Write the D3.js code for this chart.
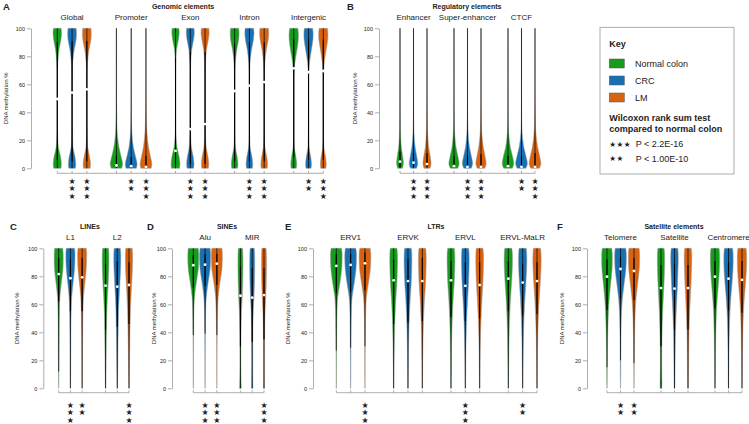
<!DOCTYPE html>
<html>
<head>
<meta charset="utf-8">
<script src="https://cdn.jsdelivr.net/npm/d3@7"></script>
<style>
  body { margin: 0; background: #fff; }
  text { font-family: "Liberation Sans", Arial, sans-serif; fill: #222; }
</style>
</head>
<body>
<svg id="chart" width="749" height="424"></svg>
<script>

/* SHARED */

var sampleNames = ["Normal colon", "CRC", "LM"];
var sampleColors = ["#169c1c", "#1870b4", "#d9620f"];
var gridLevels = [0, 3, 8, 15, 25, 40, 55, 65, 75, 85, 92, 97, 100];
var yTicks = [0, 20, 40, 60, 80, 100];

/* A: GENOMIC ELEMENTS */

var genomicGroups = ["Global", "Promoter", "Exon", "Intron", "Intergenic"];
var genomicMedians = [[49.5, 54, 56.4], [2, 1.5, 1], [12.4, 28, 31.6], [55.2, 59, 61.6], [71.4, 68.6, 69.5]];
var genomicBoxes = [
  [[6, 90, 0, 100], [5, 91, 0, 100], [5, 91, 0, 100]],
  [[0.5, 9, 0, 100], [0.3, 8, 0, 100], [0.3, 9, 0, 100]],
  [[3, 79, 0, 100], [3, 83, 0, 100], [3, 83, 0, 100]],
  [[5, 89, 0, 100], [5, 90, 0, 100], [5, 90, 0, 100]],
  [[8, 92, 0, 100], [6, 92, 0, 100], [6, 92, 0, 100]]
];
var genomicWidths = [
  [[0.5, 0.55, 0.45, 0.15, 0.04, 0.02, 0.02, 0.03, 0.07, 0.25, 0.5, 0.58, 0.52],
   [0.45, 0.5, 0.4, 0.12, 0.04, 0.02, 0.02, 0.03, 0.08, 0.3, 0.55, 0.6, 0.55],
   [0.45, 0.5, 0.38, 0.12, 0.04, 0.02, 0.02, 0.03, 0.08, 0.3, 0.55, 0.6, 0.55]],
  [[0.7, 0.84, 0.65, 0.35, 0.12, 0.04, 0.02, 0.02, 0.02, 0.02, 0.02, 0.02, 0.02],
   [0.7, 0.8, 0.6, 0.3, 0.1, 0.03, 0.02, 0.02, 0.02, 0.02, 0.02, 0.02, 0.02],
   [0.7, 0.8, 0.62, 0.35, 0.14, 0.05, 0.03, 0.02, 0.02, 0.02, 0.02, 0.02, 0.02]],
  [[0.55, 0.6, 0.5, 0.2, 0.05, 0.02, 0.02, 0.02, 0.04, 0.15, 0.4, 0.5, 0.45],
   [0.45, 0.5, 0.4, 0.15, 0.04, 0.02, 0.02, 0.02, 0.05, 0.2, 0.45, 0.55, 0.5],
   [0.45, 0.5, 0.4, 0.15, 0.04, 0.02, 0.02, 0.02, 0.05, 0.2, 0.45, 0.55, 0.5]],
  [[0.4, 0.45, 0.35, 0.1, 0.03, 0.02, 0.02, 0.03, 0.08, 0.3, 0.55, 0.6, 0.55],
   [0.4, 0.45, 0.35, 0.1, 0.03, 0.02, 0.02, 0.03, 0.08, 0.3, 0.55, 0.62, 0.57],
   [0.4, 0.45, 0.35, 0.1, 0.03, 0.02, 0.02, 0.03, 0.08, 0.3, 0.55, 0.62, 0.57]],
  [[0.35, 0.4, 0.3, 0.08, 0.03, 0.02, 0.02, 0.03, 0.15, 0.45, 0.62, 0.62, 0.55],
   [0.35, 0.4, 0.3, 0.08, 0.03, 0.02, 0.02, 0.03, 0.12, 0.4, 0.6, 0.62, 0.55],
   [0.35, 0.4, 0.3, 0.08, 0.03, 0.02, 0.02, 0.03, 0.12, 0.4, 0.6, 0.62, 0.55]]
];
var genomicStars = [[0, 3, 3], [0, 2, 3], [0, 3, 3], [0, 3, 3], [0, 2, 3]];

/* B: REGULATORY ELEMENTS */

var regulatoryGroups = ["Enhancer", "Super-enhancer", "CTCF"];
var regulatoryMedians = [[4.7, 4, 3], [1.5, 1, 1], [1.5, 1, 1]];
var regulatoryBoxes = [
  [[1, 12, 0, 100], [1, 11, 0, 100], [1, 11, 0, 100]],
  [[0.5, 9, 0, 100], [0.3, 9, 0, 100], [0.3, 10, 0, 100]],
  [[0.5, 9, 0, 100], [0.3, 9, 0, 100], [0.3, 11, 0, 100]]
];
var regulatoryWidths = [
  [[0.35, 0.5, 0.42, 0.2, 0.07, 0.03, 0.02, 0.02, 0.02, 0.02, 0.02, 0.02, 0.02],
   [0.45, 0.62, 0.5, 0.25, 0.08, 0.03, 0.02, 0.02, 0.02, 0.02, 0.02, 0.02, 0.02],
   [0.45, 0.6, 0.5, 0.25, 0.1, 0.04, 0.02, 0.02, 0.02, 0.02, 0.02, 0.02, 0.02]],
  [[0.55, 0.76, 0.6, 0.3, 0.1, 0.03, 0.02, 0.02, 0.02, 0.02, 0.02, 0.02, 0.02],
   [0.55, 0.76, 0.6, 0.3, 0.1, 0.03, 0.02, 0.02, 0.02, 0.02, 0.02, 0.02, 0.02],
   [0.55, 0.76, 0.62, 0.35, 0.12, 0.04, 0.02, 0.02, 0.02, 0.02, 0.02, 0.02, 0.02]],
  [[0.65, 0.85, 0.7, 0.35, 0.1, 0.03, 0.02, 0.02, 0.02, 0.02, 0.02, 0.02, 0.02],
   [0.65, 0.87, 0.7, 0.35, 0.1, 0.03, 0.02, 0.02, 0.02, 0.02, 0.02, 0.02, 0.02],
   [0.65, 0.87, 0.72, 0.4, 0.14, 0.05, 0.02, 0.02, 0.02, 0.02, 0.02, 0.02, 0.02]]
];
var regulatoryStars = [[0, 3, 3], [0, 3, 3], [0, 2, 3]];

/* C: LINEs */

var lineGroups = ["L1", "L2"];
var lineMedians = [[81.6, 78.6, 79.3], [73.3, 72.6, 73.8]];
var lineBoxes = [
  [[62, 93, 12, 100], [55, 92, 0, 100], [55, 93, 0, 100]],
  [[42, 89, 0, 100], [44, 91, 0, 100], [46, 90, 0, 100]]
];
var lineWidths = [
  [[0.02, 0.03, 0.04, 0.05, 0.06, 0.08, 0.12, 0.2, 0.45, 0.72, 0.77, 0.75, 0.68],
   [0.02, 0.03, 0.04, 0.05, 0.06, 0.08, 0.13, 0.22, 0.45, 0.7, 0.77, 0.77, 0.7],
   [0.02, 0.03, 0.04, 0.05, 0.06, 0.09, 0.14, 0.23, 0.46, 0.7, 0.76, 0.77, 0.7]],
  [[0.04, 0.05, 0.06, 0.08, 0.1, 0.15, 0.22, 0.32, 0.45, 0.55, 0.57, 0.55, 0.5],
   [0.04, 0.05, 0.06, 0.08, 0.1, 0.15, 0.22, 0.32, 0.45, 0.56, 0.6, 0.58, 0.52],
   [0.04, 0.05, 0.06, 0.08, 0.11, 0.16, 0.24, 0.34, 0.47, 0.58, 0.62, 0.6, 0.54]]
];
var lineStars = [[0, 3, 2], [0, 0, 3]];

/* D: SINEs */

var sineGroups = ["Alu", "MIR"];
var sineMedians = [[87.9, 88.3, 89], [66.1, 64.7, 66.6]];
var sineBoxes = [
  [[72, 95, 38, 100], [73, 96, 39, 100], [74, 96, 38, 100]],
  [[30, 87, 0, 100], [33, 86, 0, 100], [35, 86, 0, 100]]
];
var sineWidths = [
  [[0.02, 0.02, 0.03, 0.03, 0.04, 0.06, 0.1, 0.2, 0.5, 0.85, 0.93, 0.92, 0.85],
   [0.02, 0.02, 0.03, 0.03, 0.04, 0.06, 0.1, 0.2, 0.5, 0.85, 0.93, 0.92, 0.85],
   [0.02, 0.02, 0.03, 0.03, 0.04, 0.07, 0.12, 0.22, 0.5, 0.85, 0.93, 0.92, 0.85]],
  [[0.15, 0.12, 0.1, 0.08, 0.08, 0.1, 0.18, 0.3, 0.38, 0.42, 0.42, 0.4, 0.35],
   [0.12, 0.1, 0.09, 0.08, 0.08, 0.1, 0.18, 0.3, 0.38, 0.42, 0.42, 0.4, 0.35],
   [0.1, 0.09, 0.08, 0.08, 0.08, 0.1, 0.18, 0.3, 0.38, 0.42, 0.42, 0.4, 0.35]]
];
var sineStars = [[0, 3, 3], [0, 0, 3]];

/* E: LTRs */

var ltrGroups = ["ERV1", "ERVK", "ERVL", "ERVL-MaLR"];
var ltrMedians = [[87.4, 88.1, 89.3], [77.1, 76.6, 76.6], [77.1, 73.2, 73.8], [78.3, 75.5, 76.6]];
var ltrBoxes = [
  [[68, 96, 27, 100], [69, 96, 29, 100], [70, 97, 30, 100]],
  [[46, 92, 0, 100], [47, 92, 0, 100], [48, 93, 0, 100]],
  [[51, 91, 0, 100], [48, 90, 0, 100], [50, 90, 0, 100]],
  [[55, 91, 0, 100], [52, 89, 0, 100], [53, 90, 0, 100]]
];
var ltrWidths = [
  [[0.02, 0.02, 0.03, 0.03, 0.04, 0.06, 0.1, 0.2, 0.5, 0.75, 0.81, 0.8, 0.72],
   [0.02, 0.02, 0.03, 0.03, 0.04, 0.06, 0.1, 0.2, 0.5, 0.75, 0.81, 0.8, 0.72],
   [0.02, 0.02, 0.03, 0.03, 0.04, 0.06, 0.1, 0.2, 0.48, 0.75, 0.81, 0.8, 0.72]],
  [[0.03, 0.03, 0.04, 0.05, 0.07, 0.12, 0.22, 0.32, 0.45, 0.52, 0.54, 0.52, 0.46],
   [0.03, 0.03, 0.04, 0.05, 0.07, 0.12, 0.22, 0.32, 0.45, 0.52, 0.54, 0.52, 0.46],
   [0.03, 0.03, 0.04, 0.05, 0.07, 0.12, 0.22, 0.32, 0.45, 0.52, 0.54, 0.52, 0.46]],
  [[0.03, 0.03, 0.04, 0.05, 0.07, 0.12, 0.22, 0.32, 0.45, 0.52, 0.54, 0.52, 0.46],
   [0.03, 0.03, 0.04, 0.05, 0.07, 0.13, 0.24, 0.34, 0.45, 0.52, 0.54, 0.52, 0.46],
   [0.03, 0.03, 0.04, 0.05, 0.07, 0.13, 0.24, 0.34, 0.45, 0.52, 0.54, 0.52, 0.46]],
  [[0.02, 0.03, 0.04, 0.05, 0.07, 0.12, 0.22, 0.32, 0.45, 0.55, 0.58, 0.55, 0.5],
   [0.02, 0.03, 0.04, 0.05, 0.07, 0.12, 0.22, 0.32, 0.45, 0.55, 0.58, 0.55, 0.5],
   [0.02, 0.03, 0.04, 0.05, 0.07, 0.12, 0.22, 0.32, 0.45, 0.55, 0.58, 0.55, 0.5]]
];
var ltrStars = [[0, 0, 3], [0, 0, 0], [0, 3, 0], [0, 2, 0]];

/* F: SATELLITE ELEMENTS */

var satelliteGroups = ["Telomere", "Satellite", "Centromere"];
var satelliteMedians = [[79.7, 85.2, 83.8], [71.6, 71.2, 71.6], [79.7, 78.3, 77.4]];
var satelliteBoxes = [
  [[56, 92, 15, 100], [64, 94, 20, 100], [63, 93, 18, 100]],
  [[30, 88, 0, 100], [42, 89, 0, 100], [42, 88, 0, 100]],
  [[57, 91, 0, 100], [56, 90, 0, 100], [54, 91, 0, 100]]
];
var satelliteWidths = [
  [[0.02, 0.03, 0.04, 0.05, 0.07, 0.12, 0.22, 0.35, 0.55, 0.75, 0.79, 0.77, 0.7],
   [0.02, 0.02, 0.03, 0.04, 0.05, 0.08, 0.16, 0.3, 0.55, 0.8, 0.86, 0.85, 0.78],
   [0.02, 0.02, 0.03, 0.04, 0.05, 0.09, 0.18, 0.32, 0.55, 0.78, 0.83, 0.82, 0.75]],
  [[0.12, 0.14, 0.12, 0.1, 0.1, 0.15, 0.25, 0.35, 0.45, 0.52, 0.54, 0.52, 0.46],
   [0.05, 0.06, 0.07, 0.08, 0.1, 0.15, 0.25, 0.35, 0.45, 0.52, 0.56, 0.54, 0.48],
   [0.05, 0.06, 0.07, 0.08, 0.1, 0.15, 0.25, 0.35, 0.45, 0.52, 0.56, 0.54, 0.48]],
  [[0.02, 0.03, 0.04, 0.05, 0.07, 0.12, 0.22, 0.35, 0.52, 0.66, 0.69, 0.67, 0.6],
   [0.02, 0.03, 0.04, 0.05, 0.07, 0.12, 0.22, 0.35, 0.52, 0.66, 0.69, 0.67, 0.6],
   [0.02, 0.03, 0.04, 0.05, 0.07, 0.12, 0.22, 0.35, 0.52, 0.66, 0.69, 0.67, 0.6]]
];
var satelliteStars = [[0, 2, 2], [0, 0, 0], [0, 0, 0]];

/* LEGEND */

var keyTitle = "Key";
var testTitle = ["Wilcoxon rank sum test", "compared to normal colon"];
var testStars = [3, 2];
var testLabels = ["P < 2.2E-16", "P < 1.00E-10"];

/* PANEL LAYOUT */

var topRow = {y0: 168.3, y1: 28.3, titleY: 8.5, groupY: 20, baseY: 173.3, starY: 181};
var bottomRow = {y0: 388.3, y1: 248.3, titleY: 228.5, groupY: 240, baseY: 392.7, starY: 405};

var panels = [
  {letter: "A", title: "Genomic elements", row: topRow, first: 57.3, last: 323.3, axisX: 31, labelX: 6, letterX: 3, titleX: 183,
   groups: genomicGroups, medians: genomicMedians, boxes: genomicBoxes, widths: genomicWidths, stars: genomicStars},
  {letter: "B", title: "Regulatory elements", row: topRow, first: 400, last: 535, axisX: 379, labelX: 354.5, letterX: 347, titleX: 467,
   groups: regulatoryGroups, medians: regulatoryMedians, boxes: regulatoryBoxes, widths: regulatoryWidths, stars: regulatoryStars},
  {letter: "C", title: "LINEs", row: bottomRow, first: 58.7, last: 129, axisX: 43.3, labelX: 17, letterX: 10, titleX: 90,
   groups: lineGroups, medians: lineMedians, boxes: lineBoxes, widths: lineWidths, stars: lineStars},
  {letter: "D", title: "SINEs", row: bottomRow, first: 193.3, last: 264, axisX: 172, labelX: 153.7, letterX: 147, titleX: 227,
   groups: sineGroups, medians: sineMedians, boxes: sineBoxes, widths: sineWidths, stars: sineStars},
  {letter: "E", title: "LTRs", row: bottomRow, first: 336.3, last: 537, axisX: 313, labelX: 287.5, letterX: 285, titleX: 436,
   groups: ltrGroups, medians: ltrMedians, boxes: ltrBoxes, widths: ltrWidths, stars: ltrStars},
  {letter: "F", title: "Satellite elements", row: bottomRow, first: 607, last: 742, axisX: 587, labelX: 562, letterX: 557, titleX: 674,
   groups: satelliteGroups, medians: satelliteMedians, boxes: satelliteBoxes, widths: satelliteWidths, stars: satelliteStars}
];

var svg = d3.select("#chart");

function drawPanel(p){

  var row = p.row;
  var nSlots = p.groups.length * 4 - 1;
  var x = d3.scaleLinear().domain([0, nSlots - 1]).range([p.first, p.last]);
  var y = d3.scaleLinear().domain([0, 100]).range([row.y0, row.y1]);
  var hw = (x(1) - x(0)) / 2;

  var g = svg.append("g");

  // panel letter and title
  g.append("text")
   .attr("x", p.letterX)
   .attr("y", row.titleY + 1.5)
   .style("font-size", "9.5px")
   .style("font-weight", "bold")
   .text(p.letter);

  g.append("text")
   .attr("x", p.titleX)
   .attr("y", row.titleY)
   .attr("text-anchor", "middle")
   .style("font-size", "7px")
   .style("font-weight", "bold")
   .text(p.title);

  // y axis
  var axis = g.append("g")
              .attr("transform", "translate(" + p.axisX + ",0)")
              .call(d3.axisLeft(y).tickValues(yTicks).tickSize(4).tickSizeOuter(0).tickPadding(2));
  axis.select(".domain").attr("stroke", "#999").attr("stroke-width", 0.8);
  axis.selectAll(".tick line").attr("stroke", "#999").attr("stroke-width", 0.8);
  axis.selectAll(".tick text")
      .style("font-size", "5.5px")
      .style("font-family", "'Liberation Sans', Arial, sans-serif")
      .attr("fill", "#333");

  g.append("text")
   .attr("transform", "translate(" + p.labelX + "," + ((row.y0 + row.y1) / 2) + ") rotate(-90)")
   .attr("text-anchor", "middle")
   .attr("dominant-baseline", "central")
   .style("font-size", "6px")
   .attr("fill", "#333")
   .text("DNA methylation %");

  // bottom baseline
  g.append("line")
   .attr("x1", x(0)).attr("x2", x(nSlots - 1))
   .attr("y1", row.baseY).attr("y2", row.baseY)
   .attr("stroke", "#999").attr("stroke-width", 0.8);

  p.groups.forEach(function(name, gi){

    g.append("text")
     .attr("x", x(gi * 4 + 1))
     .attr("y", row.groupY)
     .attr("text-anchor", "middle")
     .style("font-size", "8px")
     .attr("fill", "#333")
     .text(name);

    sampleNames.forEach(function(s, si){
      var cx = x(gi * 4 + si);
      var box = p.boxes[gi][si];

      var area = d3.area()
                   .y(function(d, i){ return y(gridLevels[i]); })
                   .x0(function(d){ return cx - d * hw; })
                   .x1(function(d){ return cx + d * hw; })
                   .curve(d3.curveCatmullRom);

      g.append("path")
       .attr("d", area(p.widths[gi][si]))
       .attr("fill", sampleColors[si])
       .attr("stroke", "#9a9a9a")
       .attr("stroke-width", 0.5);

      g.append("line")
       .attr("x1", cx).attr("x2", cx)
       .attr("y1", y(box[2])).attr("y2", y(box[3]))
       .attr("stroke", "#000").attr("stroke-width", 0.7);

      g.append("line")
       .attr("x1", cx).attr("x2", cx)
       .attr("y1", y(box[0])).attr("y2", y(box[1]))
       .attr("stroke", "#000").attr("stroke-width", 1.1);

      g.append("circle")
       .attr("cx", cx)
       .attr("cy", y(p.medians[gi][si]))
       .attr("r", 1.4)
       .attr("fill", "#fff");

      g.append("line")
       .attr("x1", cx).attr("x2", cx)
       .attr("y1", row.baseY).attr("y2", row.baseY - 2.5)
       .attr("stroke", "#999").attr("stroke-width", 0.8);

      d3.range(p.stars[gi][si]).forEach(function(k){
        g.append("text")
         .attr("x", cx)
         .attr("y", row.starY + k * 7.6)
         .attr("text-anchor", "middle")
         .attr("dominant-baseline", "central")
         .style("font-family", "'DejaVu Sans', sans-serif")
         .style("font-size", "8px")
         .attr("fill", "#000")
         .text("\u2605");
      });
    });
  });
};

function drawKey(){

  var k = svg.append("g");

  k.append("rect")
   .attr("x", 600).attr("y", 27.3)
   .attr("width", 134).attr("height", 146.7)
   .attr("fill", "#fff")
   .attr("stroke", "#999")
   .attr("stroke-width", 0.8);

  k.append("text")
   .attr("x", 609.3).attr("y", 46.5)
   .style("font-size", "9px")
   .style("font-weight", "bold")
   .text(keyTitle);

  sampleNames.forEach(function(s, i){
    var top = 59 + i * 17;
    k.append("rect")
     .attr("x", 609.3).attr("y", top)
     .attr("width", 15).attr("height", 9)
     .attr("fill", sampleColors[i])
     .attr("stroke", "#555")
     .attr("stroke-width", 0.5);
    k.append("text")
     .attr("x", 635).attr("y", top + 7.8)
     .style("font-size", "9px")
     .attr("fill", "#333")
     .text(s);
  });

  testTitle.forEach(function(t, i){
    k.append("text")
     .attr("x", 609.3).attr("y", 120.5 + i * 11.2)
     .style("font-size", "9px")
     .style("font-weight", "bold")
     .text(t);
  });

  testLabels.forEach(function(t, i){
    var base = 147 + i * 14.5;
    k.append("text")
     .attr("x", 609.3).attr("y", base - 3)
     .attr("dominant-baseline", "central")
     .style("font-family", "'DejaVu Sans', sans-serif")
     .style("font-size", "7.5px")
     .style("letter-spacing", "0.5px")
     .attr("fill", "#000")
     .text(d3.range(testStars[i]).map(function(){ return "\u2605"; }).join(""));
    k.append("text")
     .attr("x", 635.7).attr("y", base)
     .style("font-size", "9px")
     .attr("fill", "#333")
     .text(t);
  });
};

panels.forEach(drawPanel);
drawKey();

</script>
</body>
</html>
